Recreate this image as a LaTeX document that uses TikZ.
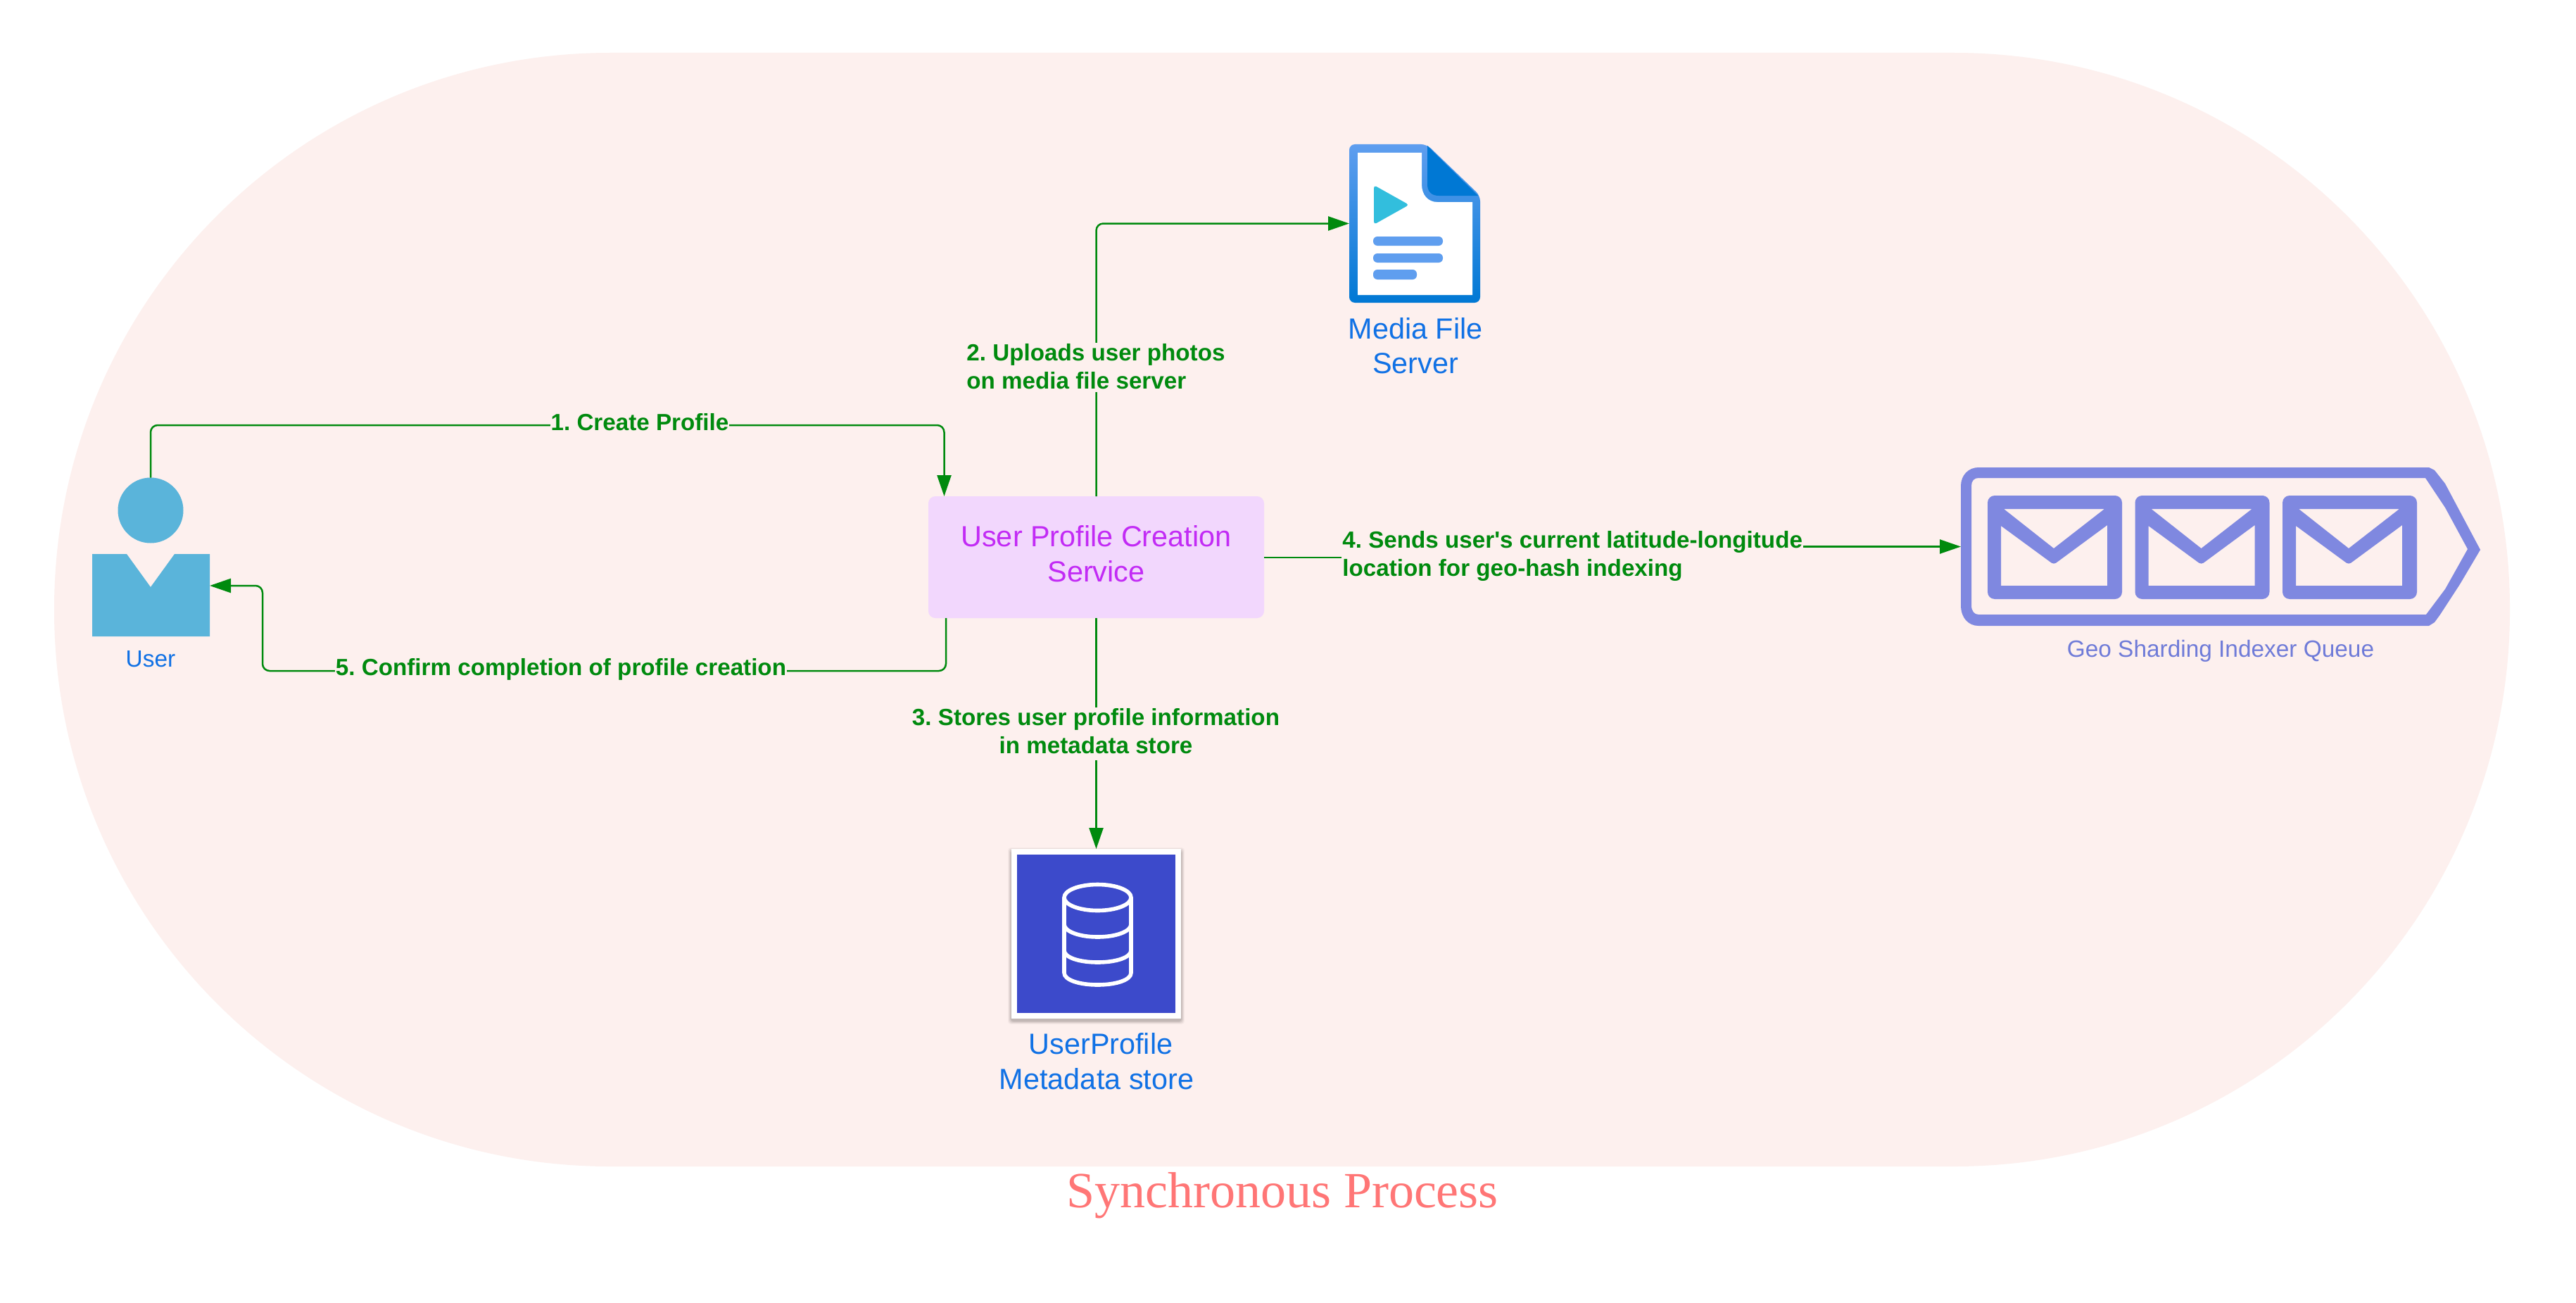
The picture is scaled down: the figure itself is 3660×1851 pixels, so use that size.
\documentclass[tikz,border=0pt]{standalone}
\usepackage{fontspec}
\setmainfont{Liberation Sans}
\newfontfamily\titlefont{Liberation Serif}
\newfontfamily\flowfont{Liberation Sans}
\usetikzlibrary{arrows.meta,calc}
\frenchspacing
\definecolor{bgpink}{HTML}{FDF0EE}
\definecolor{flowgreen}{HTML}{008A0E}
\definecolor{svcfill}{HTML}{F2D7FD}
\definecolor{svctext}{HTML}{C22BF5}
\definecolor{nodeblue}{HTML}{1071E5}
\definecolor{userblue}{HTML}{5AB4DA}
\definecolor{docblue}{HTML}{5F9EEF}
\definecolor{docdark}{HTML}{0078D4}
\definecolor{playcyan}{HTML}{32BEDD}
\definecolor{queueblue}{HTML}{7F88E0}
\definecolor{queuetext}{HTML}{6F7BD8}
\definecolor{dbblue}{HTML}{3C4ACB}
\definecolor{titlepink}{HTML}{FF7676}
\tikzset{
  x=0.5pt,y=-0.5pt,
  conn/.style={draw=flowgreen,line width=1.25pt,rounded corners=5pt},
  connarrow/.style={conn,-{Triangle[length=15pt,width=10pt,fill=flowgreen]}},
  flowlabel/.style={fill=bgpink,text=flowgreen,inner sep=0.5pt,font=\flowfont\fontsize{16.6}{20}\selectfont\bfseries},
  nodetext/.style={text=nodeblue,inner sep=0pt,align=center,font=\fontsize{20.7}{25}\selectfont},
  smalltext/.style={inner sep=0pt,font=\fontsize{16.7}{20}\selectfont},
  anchorbox/.style={inner sep=0pt,outer sep=0pt},
}
\begin{document}
\begin{tikzpicture}
\useasboundingbox (0,0) rectangle (3660,1851);
\fill[white] (0,0) rectangle (3660,1851);
% background
\fill[bgpink,rounded corners=395pt] (77,75) rectangle (3566,1657);

% User
\node[name=head,circle,fill=userblue,minimum size=46.5pt,inner sep=0pt,anchorbox] at (214,725) {};
\fill[userblue] (131,787) -- (180,787) -- (214,834) -- (248,787) -- (298,787) -- (298,904) -- (131,904) -- cycle;
\coordinate (bodyE) at (298,832);
\node[name=userlabel,smalltext,text=nodeblue,anchor=base] at (214,947) {User};

% Service
\node[name=svc,anchorbox,fill=svcfill,rounded corners=5pt,minimum width=238.5pt,minimum height=86.5pt] at (1557.5,791.5) {};
\node[name=svclabel,anchorbox,align=center,text=svctext,font=\fontsize{20.7}{25}\selectfont] at (1557.5,787) {User Profile Creation\\Service};

% Media file server icon
\node[name=doc,anchorbox,minimum width=93pt,minimum height=112.5pt] at (2010,317.5) {};
\shade[top color=docblue,middle color=docblue!70!docdark,bottom color=docdark,rounded corners=4pt]
  (1917,430) -- (1917,205) -- (2027,205) -- (2103,278) -- (2103,430) -- cycle;
\fill[white] (1929,419) -- (1929,217) -- (2020,217) -- (2020,262)
  .. controls (2020,277) and (2029,287) .. (2042,287) -- (2092,287) -- (2092,419) -- cycle;
\fill[docdark] (2028,207) -- (2028,262) .. controls (2028,272) and (2034,278) .. (2044,278) -- (2100,278) -- cycle;
\fill[playcyan,rounded corners=2pt] (1952,263) -- (1952,319) -- (2002,291) -- cycle;
\fill[docblue,rounded corners=3pt] (1951,336) rectangle (2050,349);
\fill[docblue,rounded corners=3pt] (1951,360) rectangle (2050,373);
\fill[docblue,rounded corners=3pt] (1951,383) rectangle (2013,397);
\node[name=doclabel,nodetext,anchor=base] at (2011,481) {Media File};
\node[name=doclabel2,nodetext,anchor=base] at (2011,530) {Server};

% Queue icon
\node[name=queue,anchorbox,minimum width=369pt,minimum height=112.5pt] at (3155,776.5) {};
\fill[queueblue,even odd rule]
  (2786,690) .. controls (2786,675) and (2797,664) .. (2811,664) -- (3451,664)
  -- (3459,668) -- (3474,687) -- (3524,781) -- (3495,830) -- (3467,873) -- (3459,884) -- (3451,889)
  -- (2811,889)
  .. controls (2797,889) and (2786,878) .. (2786,860) -- cycle
  (2801,690) .. controls (2801,683) and (2805,679) .. (2811,679) -- (3446,679)
  -- (3474,721) -- (3506,780) -- (3474,837) -- (3447,873) -- (2811,873)
  .. controls (2805,873) and (2801,868) .. (2801,860) -- cycle;
\foreach \dx in {0,209.5,419}{
  \begin{scope}[shift={(\dx,0)}]
  \fill[queueblue,even odd rule]
    [rounded corners=5pt] (2824,704) -- (3015,704) -- (3015,851) -- (2824,851) -- cycle
    [rounded corners=0pt] (2847,723) -- (2990,723) -- (2918,779) -- cycle
    (2843,747) [rounded corners=2pt] -- (2918,802) [rounded corners=0pt] -- (2994,746) -- (2994,832) -- (2843,832) -- cycle;
  \end{scope}
}
\node[name=queuelabel,smalltext,text=queuetext,anchor=base] at (3155,933) {Geo Sharding Indexer Queue};

% Metadata store icon
\foreach \e/\o in {5/0.03,4/0.04,3/0.05,2/0.06,1/0.07}{
  \fill[black,opacity=\o,rounded corners=2pt] ($(1437,1209)+(-\e,-\e)$) rectangle ($(1678,1450)+(\e,\e)$);
}
\node[name=db,anchorbox,fill=white,minimum size=120.5pt] at (1557.5,1326.5) {};
\fill[dbblue] (1445,1214) rectangle (1670,1439);
\begin{scope}[draw=white,line width=2.8pt]
  \draw (1559.5,1275) ellipse [x radius=47.5,y radius=18.5];
  \draw (1512,1275) -- (1512,1382) .. controls (1512,1392) and (1533,1399) .. (1559.5,1399)
        .. controls (1586,1399) and (1607,1392) .. (1607,1382) -- (1607,1275);
  \draw (1512,1313) .. controls (1512,1323) and (1533,1331) .. (1559.5,1331) .. controls (1586,1331) and (1607,1323) .. (1607,1313);
  \draw (1512,1350) .. controls (1512,1360) and (1533,1367) .. (1559.5,1367) .. controls (1586,1367) and (1607,1360) .. (1607,1350);
\end{scope}
\node[name=dblabel,nodetext,anchor=base] at (1564,1497) {UserProfile};
\node[name=dblabel2,nodetext,anchor=base] at (1558,1547) {Metadata store};

% Connectors
\coordinate (c1top) at (214,604);
\coordinate (svcN1) at ($(svc.north)+(-216,0)$);
\coordinate (svcS5) at ($(svc.south)+(-213.5,0)$);
\coordinate (c5low) at (1344,953);
\coordinate (c5left) at (373,953);
\coordinate (c4a) at (2230,792);
\coordinate (c4b) at (2230,776.5);
\draw[connarrow] (head.north) -- (c1top) -- (c1top -| svcN1) -- (svcN1);
\draw[connarrow] (svcS5) -- (c5low) -- (c5left) -- (c5left |- bodyE) -- (bodyE);
\draw[connarrow] (svc.north) |- (doc.west);
\draw[connarrow] (svc.south) -- (db.north);
\draw[connarrow,rounded corners=0pt] (svc.east |- c4a) -- (c4a) -- (c4b) -- (queue.west);

% Connector labels
\node[name=lab1,flowlabel,anchor=base] at (909,611) {1. Create Profile};
\node[name=lab2,flowlabel,align=left,anchor=west] at (1372,522) {2. Uploads user photos\\on media file server\rule[-2pt]{0pt}{0pt}};
\node[name=lab3,flowlabel,align=center] at (1557,1042.5) {3. Stores user profile information\\in metadata store\rule[-4.5pt]{0pt}{0pt}};
\node[name=lab4,flowlabel,align=left,anchor=west] at (1906,790) {4. Sends user's current latitude-longitude\\location for geo-hash indexing};
\node[name=lab5,flowlabel,anchor=base] at (797,959) {5. Confirm completion of profile creation};

% Title
\node[name=title,inner sep=0pt,text=titlepink,anchor=base,font=\fontsize{36}{42}\selectfont\titlefont] at (1822,1715) {Synchronous Process};
\end{tikzpicture}
\end{document}
